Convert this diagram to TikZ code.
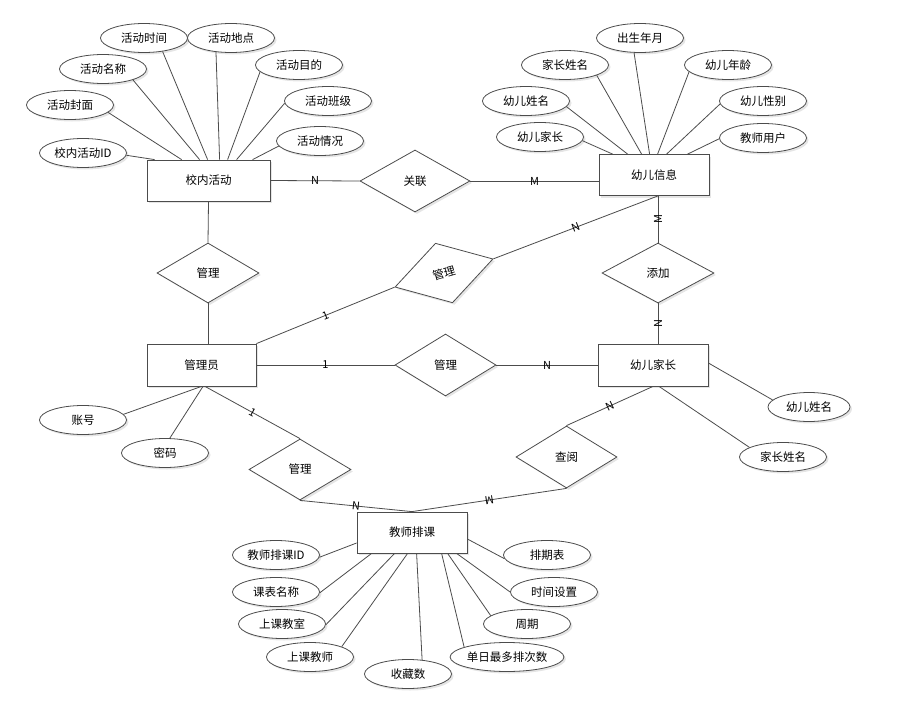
\documentclass[tikz,border=0pt]{standalone}
\usepackage{fontspec}
\setmainfont{Noto Sans CJK SC}
\usetikzlibrary{shapes.geometric,calc,shadows}
\begin{document}
\begin{tikzpicture}[x=1pt,y=-1pt,
  every node/.style={font=\fontsize{11.5}{13}\selectfont, inner sep=0pt, text=black},
  shd/.style={drop shadow={shadow xshift=2pt, shadow yshift=-2pt, fill=black, opacity=0.10}},
  ent/.style={rectangle, draw=black!70, line width=0.8pt, fill=white, shd},
  rel/.style={diamond, draw=black!70, line width=0.8pt, fill=white, shd},
  att/.style={ellipse, draw=black!70, line width=0.8pt, fill=white, minimum width=87pt, minimum height=29pt, shd},
  ln/.style={draw=black!70, line width=0.8pt},
  lab/.style={font=\fontsize{11}{12}\selectfont, midway}]
\fill[white] (0,0) rectangle (900,707);
\useasboundingbox (0,0) rectangle (900,707);

% entities
\node[ent, minimum width=123pt, minimum height=41pt] (xn) at (208.5,180.5) {校内活动};
\node[ent, minimum width=110pt, minimum height=41pt] (yx) at (654,175) {幼儿信息};
\node[ent, minimum width=109pt, minimum height=42pt] (gly) at (201.5,365) {管理员};
\node[ent, minimum width=110pt, minimum height=42pt] (jz) at (653,365) {幼儿家长};
\node[ent, minimum width=110pt, minimum height=41pt] (pk) at (412,532.5) {教师排课};

% relationships
\node[rel, minimum width=110pt, minimum height=62pt] (rgl) at (415,181) {关联};
\node[rel, minimum width=102pt, minimum height=60pt] (r1) at (208,273) {管理};
\node[rel, minimum width=102pt, minimum height=62pt, rotate=16] (r2) at (444,273) {管理};
\node[rel, minimum width=112pt, minimum height=60pt] (rtj) at (658,273) {添加};
\node[rel, minimum width=101pt, minimum height=62pt] (r3) at (445.5,365) {管理};
\node[rel, minimum width=102pt, minimum height=61pt] (r4) at (300,469.5) {管理};
\node[rel, minimum width=101pt, minimum height=62pt] (rcy) at (566.5,457) {查阅};

% attributes of 校内活动
\node[att] (a1) at (144,38) {活动时间};
\node[att] (a2) at (231,38) {活动地点};
\node[att] (a3) at (103,69) {活动名称};
\node[att] (a4) at (299,65) {活动目的};
\node[att] (a5) at (70,105) {活动封面};
\node[att] (a6) at (328,101) {活动班级};
\node[att] (a7) at (83,153) {校内活动ID};
\node[att] (a8) at (320,141) {活动情况};

% attributes of 幼儿信息
\node[att] (b1) at (640,38) {出生年月};
\node[att] (b2) at (565,65) {家长姓名};
\node[att] (b3) at (728,65) {幼儿年龄};
\node[att] (b4) at (526,101) {幼儿姓名};
\node[att] (b5) at (763,101) {幼儿性别};
\node[att] (b6) at (540,137) {幼儿家长};
\node[att] (b7) at (763,138) {教师用户};

% attributes of 管理员
\node[att] (c1) at (83,420) {账号};
\node[att] (c2) at (165,453) {密码};

% attributes of 幼儿家长
\node[att, minimum width=82pt] (d1) at (809,407) {幼儿姓名};
\node[att] (d2) at (783,457) {家长姓名};

% attributes of 教师排课
\node[att] (e1) at (276,555) {教师排课ID};
\node[att] (e2) at (276,592) {课表名称};
\node[att] (e3) at (282,624) {上课教室};
\node[att] (e4) at (310,657) {上课教师};
\node[att] (e5) at (408,674) {收藏数};
\node[att] (e6) at (547,555) {排期表};
\node[att] (e7) at (554,592) {时间设置};
\node[att] (e8) at (527,624) {周期};
\node[att] (e9) at (507,657) {单日最多排次数};

% attribute connectors
\path[ln] (a7.-3) -- ($(xn.north west)+(8,0)$);
\path[ln] (a5.-11) -- ($(xn.north west)+(35,0)$);
\path[ln] (a3.-20) -- ($(xn.north west)+(53,0)$);
\path[ln] (a1.-36) -- ($(xn.north west)+(61,0)$);
\path[ln] (a2.-137) -- ($(xn.north west)+(73,0)$);
\path[ln] (a4.-170) -- ($(xn.north west)+(81,0)$);
\path[ln] (a6.-177) -- ($(xn.north west)+(90,0)$);
\path[ln] (a8.-173) -- ($(xn.north west)+(106,0)$);

\path[ln] (b6.-5) -- ($(yx.north west)+(14,0)$);
\path[ln] (b4.-8) -- ($(yx.north west)+(29,0)$);
\path[ln] (b2.-18) -- ($(yx.north west)+(43,0)$);
\path[ln] (b1.-112) -- ($(yx.north west)+(51,0)$);
\path[ln] (b3.-170) -- ($(yx.north west)+(59,0)$);
\path[ln] (b5.-176) -- ($(yx.north west)+(68,0)$);
\path[ln] (b7.-179) -- ($(yx.north west)+(89,0)$);

\path[ln] (c1.8) -- (gly.south);
\path[ln] (c2.72) -- ($(gly.south)+(1.5,0)$);

\path[ln] (d1.169) -- ($(jz.east)+(0,-2)$);
\path[ln] (d2.164) -- ($(jz.south)+(6,0)$);

\path[ln] (e1.-3) -- ($(pk.west)+(0,10.5)$);
\path[ln] (e2.-1) -- ($(pk.south west)+(15,0)$);
\path[ln] (e3.-1) -- ($(pk.south west)+(38,0)$);
\path[ln] (e4.18) -- ($(pk.south west)+(51,0)$);
\path[ln] (e5.45) -- ($(pk.south west)+(60,0)$);
\path[ln] (e9.167) -- ($(pk.south west)+(85,0)$);
\path[ln] (e8.167) -- ($(pk.south west)+(91,0)$);
\path[ln] (e7.180) -- ($(pk.south west)+(100,0)$);
\path[ln] (e6.-175) -- ($(pk.east)+(0,6.5)$);

% relationship connectors
\coordinate (yxb) at (rtj.north |- yx.south);
\coordinate (glyb) at ($(gly.south)+(3.5,0)$);
\path[ln] (xn.east) -- (rgl.west) node[lab] {N};
\path[ln] (rgl.east) -- (rgl.east -| yx.west) node[lab] {M};
\path[ln] (xn.south) -- (r1.north);
\path[ln] (r1.south) -- (r1.south |- gly.north);
\path[ln] (yxb) -- (rtj.north) node[lab, rotate=90] {M};
\path[ln] (rtj.south) -- (rtj.south |- jz.north) node[lab, rotate=90] {N};
\path[ln] (gly.north east) -- (r2.west) node[lab, rotate=22] {1};
\path[ln] (r2.east) -- (yxb) node[lab, rotate=21] {N};
\path[ln] (gly.east) -- (r3.west) node[lab] {1};
\path[ln] (r3.east) -- (r3.east -| jz.west) node[lab] {N};
\path[ln] (glyb) -- (r4.north) node[lab, rotate=-29] {1};
\path[ln] (r4.south) -- (pk.north) node[lab, rotate=-6] {N};
\path[ln] (jz.south) -- (rcy.north) node[lab, rotate=25] {N};
\path[ln] (rcy.south) -- (pk.north) node[lab, rotate=189] {M};
\end{tikzpicture}
\end{document}
